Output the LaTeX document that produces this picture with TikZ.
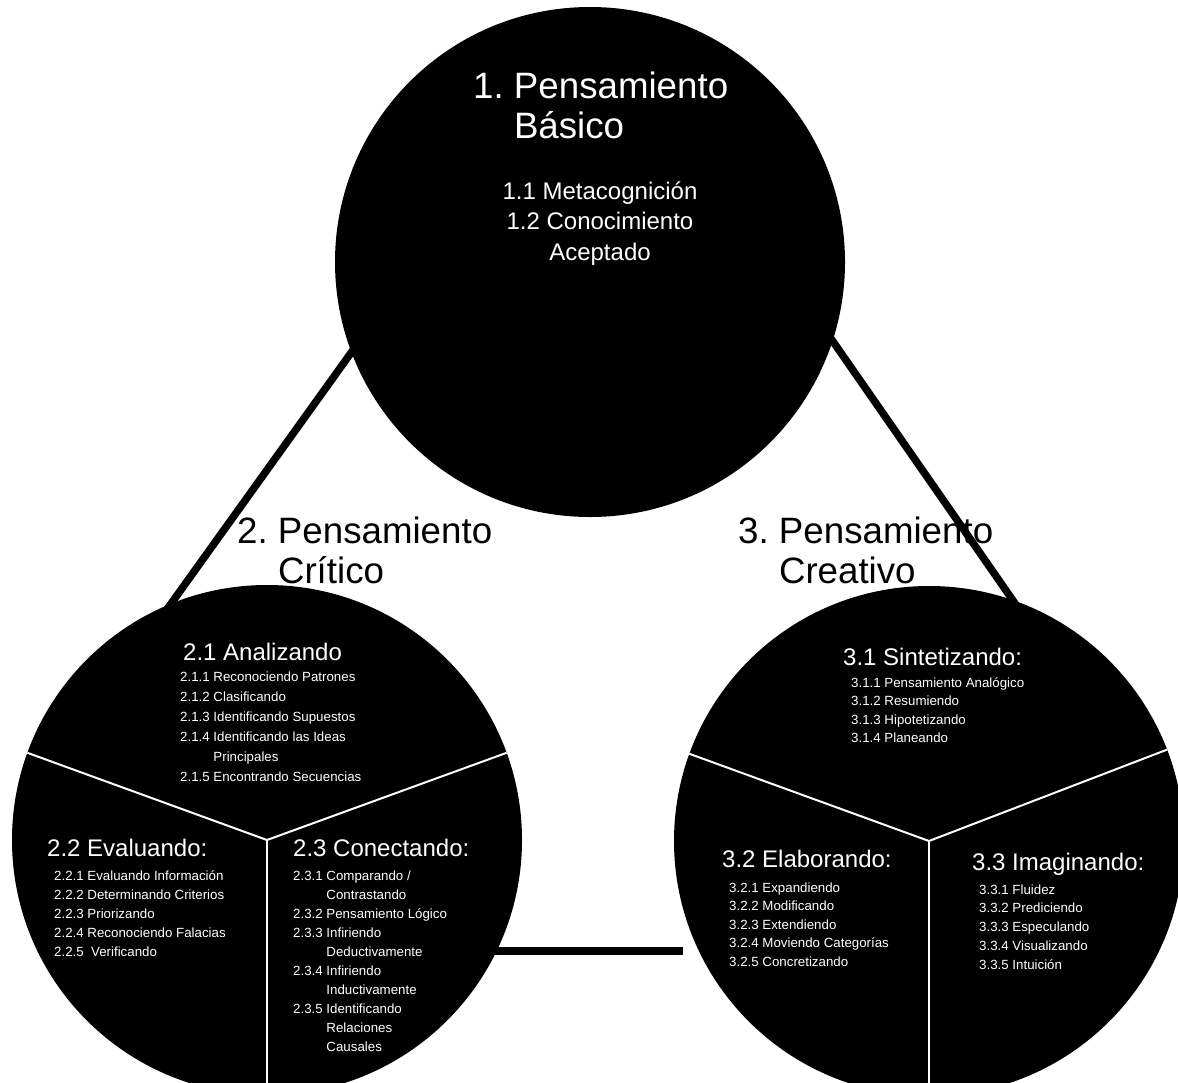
\documentclass[tikz,border=0pt]{standalone}
\usepackage{fontspec}
\setmainfont{Liberation Sans}
\usepackage{tikz}

\newcommand\hangrows[1]{\vtop{\lineskiplimit=-\maxdimen\let\\=\cr\halign{##\hfil&##\hfil\cr#1\crcr}}}
\newcommand\midrows[1]{\vtop{\lineskiplimit=-\maxdimen\let\\=\cr\halign{\hfil##\hfil\cr#1\crcr}}}

\tikzset{
  bigcirc/.style={circle,fill=black,minimum size=510pt,inner sep=0pt,outer sep=0pt},
  divider/.style={draw=white,line width=2pt},
  link/.style={draw=black,line width=7.5pt},
  title/.style={anchor=base west,inner sep=0pt,font=\fontsize{36.7}{40}\selectfont},
  head/.style={anchor=base west,inner sep=0pt,text=white,font=\fontsize{24}{30.5}\selectfont},
  items/.style={anchor=base west,inner sep=0pt,text=white,font=\fontsize{13.3}{#1}\selectfont},
  items/.default=19
}

\begin{document}
\begin{tikzpicture}[x=1pt,y=1pt]
        \useasboundingbox (0,0) rectangle (1178,-1082);
        \coordinate (L1a) at (376,-318);
        \coordinate (L1b) at (150,-633);
        \coordinate (L2a) at (816,-317);
        \coordinate (L2b) at (1030,-625);
        \coordinate (L3a) at (480,-951);
        \coordinate (L3b) at (683,-951);
        \draw[link] (L1a)--(L1b);
        \draw[link] (L2a)--(L2b);
        \draw[link] (L3a)--(L3b);

        \node[bigcirc] (basico) at (590,-262) {};
        \node[bigcirc] (critico) at (267,-840) {};
        \node[bigcirc] (creativo) at (929,-841) {};
        \draw[divider] (critico.center)--(critico.160);
        \draw[divider] (critico.center)--(critico.20);
        \draw[divider] (critico.center)--(critico.270);
        \draw[divider] (creativo.center)--(creativo.160);
        \draw[divider] (creativo.center)--(creativo.21);
        \draw[divider] (creativo.center)--(creativo.270);

        \node[title,text=white] (basicoT) at (473,-98) {\hangrows{1.\ &Pensamiento\\&Básico}};
        \node[head,anchor=base] (basicoL) at (600,-199) {\midrows{1.1 Metacognición\\1.2 Conocimiento\\Aceptado}};

        \node[title] (criticoT) at (237,-543) {\hangrows{2.\ &Pensamiento\\&Crítico}};
        \node[head] (analizando) at (183,-660) {2.1 Analizando};
        \node[items=20] (analizandoL) at (180,-681) {\hangrows{2.1.1\ &Reconociendo Patrones\\2.1.2\ &Clasificando\\2.1.3\ &Identificando Supuestos\\2.1.4\ &Identificando las Ideas\\&Principales\\2.1.5\ &Encontrando Secuencias}};
        \node[head] (evaluando) at (47,-856) {2.2 Evaluando:};
        \node[items] (evaluandoL) at (54,-880) {\hangrows{2.2.1\ &Evaluando Información\\2.2.2\ &Determinando Criterios\\2.2.3\ &Priorizando\\2.2.4\ &Reconociendo Falacias\\2.2.5\ &\ Verificando}};
        \node[head] (conectando) at (293,-856) {2.3 Conectando:};
        \node[items] (conectandoL) at (293,-880) {\hangrows{2.3.1\ &Comparando /\\&Contrastando\\2.3.2\ &Pensamiento Lógico\\2.3.3\ &Infiriendo\\&Deductivamente\\2.3.4\ &Infiriendo\\&Inductivamente\\2.3.5\ &Identificando\\&Relaciones\\&Causales}};

        \node[title] (creativoT) at (738,-543) {\hangrows{3.\ &Pensamiento\\&Creativo}};
        \node[head] (sintetizando) at (843,-665) {3.1 Sintetizando:};
        \node[items=18.5] (sintetizandoL) at (851,-687) {\hangrows{3.1.1\ &Pensamiento Analógico\\3.1.2\ &Resumiendo\\3.1.3\ &Hipotetizando\\3.1.4\ &Planeando}};
        \node[head] (elaborando) at (722,-867) {3.2 Elaborando:};
        \node[items=18.5] (elaborandoL) at (729,-892) {\hangrows{3.2.1\ &Expandiendo\\3.2.2\ &Modificando\\3.2.3\ &Extendiendo\\3.2.4\ &Moviendo Categorías\\3.2.5\ &Concretizando}};
        \node[head] (imaginando) at (972,-870) {3.3 Imaginando:};
        \node[items=18.8] (imaginandoL) at (979,-894) {\hangrows{3.3.1\ &Fluidez\\3.3.2\ &Prediciendo\\3.3.3\ &Especulando\\3.3.4\ &Visualizando\\3.3.5\ &Intuición}};
    \end{tikzpicture}
\end{document}
